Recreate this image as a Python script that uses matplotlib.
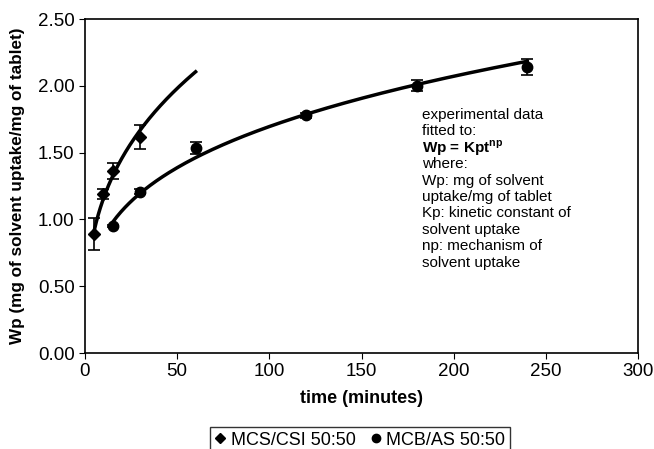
import numpy as np
import matplotlib
matplotlib.use('Agg')
import matplotlib.pyplot as plt

plt.rcParams['font.family'] = ['Liberation Sans', 'DejaVu Sans']
plt.rcParams['mathtext.fontset'] = 'custom'
plt.rcParams['mathtext.rm'] = 'Liberation Sans'
plt.rcParams['mathtext.bf'] = 'Liberation Sans:bold'

# MCS/CSI 50:50 (diamonds)
t_csi = [5, 10, 15, 30]
wp_csi = [0.89, 1.19, 1.365, 1.62]
err_csi = [0.117, 0.037, 0.06, 0.09]

# MCB/AS 50:50 (circles)
t_as = [15, 30, 60, 120, 180, 240]
wp_as = [0.95, 1.207, 1.537, 1.78, 2.00, 2.14]
err_as = [0.01, 0.02, 0.045, 0.02, 0.04, 0.06]

# fitted range of each power-law curve
fit_range_csi = (5, 60)
fit_range_as = (15, 240)

note = ["experimental data", "fitted to:", r"Wp = Kpt$^{\mathbf{np}}$", "where:",
        "Wp: mg of solvent", "uptake/mg of tablet", "Kp: kinetic constant of",
        "solvent uptake", "np: mechanism of", "solvent uptake"]


def power_fit(t, w, rng):
    # Wp = Kp * t^np, fitted on log-log
    npow, lnk = np.polyfit(np.log(t), np.log(w), 1)
    tt = np.linspace(rng[0], rng[1], 200)
    return tt, np.exp(lnk) * tt ** npow


fig = plt.figure(figsize=(6.54, 4.49), dpi=100)
ax = fig.add_axes([85/654, 1-353/449, (638-85)/654, (353-19)/449])

tt, ww = power_fit(t_csi, wp_csi, fit_range_csi)
ax.plot(tt, ww, 'k', lw=2.5)
tt, ww = power_fit(t_as, wp_as, fit_range_as)
ax.plot(tt, ww, 'k', lw=2.5)

ax.errorbar(t_csi, wp_csi, yerr=err_csi, fmt='D', color='k', ms=6,
            capsize=4, elinewidth=1.2, capthick=1.2, label='MCS/CSI 50:50')
ax.errorbar(t_as, wp_as, yerr=err_as, fmt='o', color='k', ms=7.5,
            capsize=4, elinewidth=1.2, capthick=1.2, label='MCB/AS 50:50')

ax.set_xlim(0, 300)
ax.set_ylim(0, 2.5)
ax.set_xticks(np.arange(0, 301, 50))
ax.set_yticks(np.arange(0, 2.51, 0.5))
ax.set_yticklabels(['%.2f' % v for v in np.arange(0, 2.51, 0.5)])
ax.tick_params(labelsize=13.5, direction='out', length=4, color='k')
for s in ax.spines.values():
    s.set_linewidth(1.2)

ax.set_xlabel('time (minutes)', fontsize=13, fontweight='bold', labelpad=7)
ax.set_ylabel('Wp (mg of solvent uptake/mg of tablet)', fontsize=12.3,
              fontweight='bold', labelpad=9)

y0 = 115
for i, line in enumerate(note):
    ax.text((422 - 85) / 1.843, (353 - (y0 + i * 16.4)) / 133.6, line,
            fontsize=11, va='center', ha='left',
            fontweight='bold' if i == 2 else 'normal')

h, l = ax.get_legend_handles_labels()
h = [hh[0] for hh in h]
leg = fig.legend(h, l, loc='upper center', bbox_to_anchor=(360/654, 1-427/449),
                 borderaxespad=0, ncol=2, fontsize=13, frameon=True, fancybox=False,
                 handlelength=0.6, handletextpad=0.3, columnspacing=0.8,
                 borderpad=0.25, edgecolor='k', markerscale=0.8)
leg.get_frame().set_linewidth(1.0)

fig.savefig('out.png', dpi=100)
